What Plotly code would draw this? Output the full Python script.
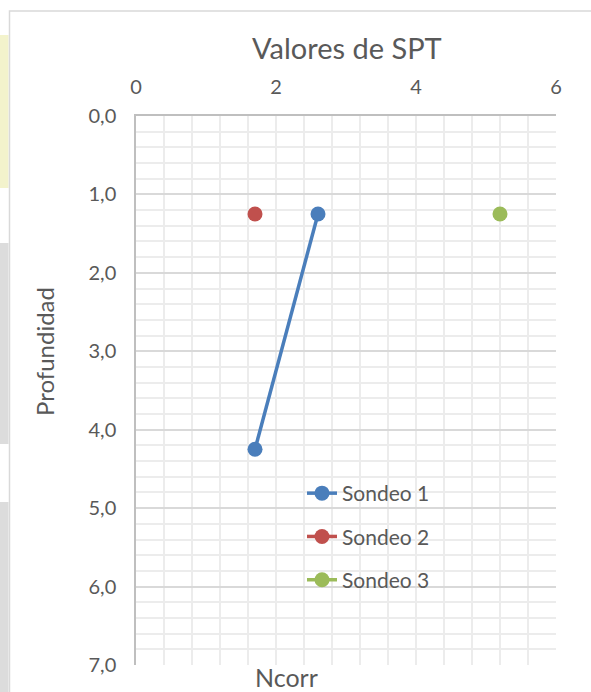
import plotly.graph_objects as go

# SPT blow counts (Ncorr) against depth for each borehole
sondeo_1_ncorr = [2.6, 1.7]
sondeo_1_prof = [1.25, 4.25]
sondeo_2_ncorr = [1.7]
sondeo_2_prof = [1.25]
sondeo_3_ncorr = [5.2]
sondeo_3_prof = [1.25]

series_names = ["Sondeo 1", "Sondeo 2", "Sondeo 3"]
series_colors = ["#4a7ebb", "#c0504d", "#9bbb59"]

W, H = 591, 692
L, R, T, B = 136, 556, 116, 665  # plot area in pixels
FONT = "Lato"
TXT = "#595959"


def px_x(px):
    return (px - L) / (R - L)


def px_y(py):
    return (B - py) / (B - T)


fig = go.Figure()
for name, xs, ys, col in zip(
    series_names,
    [sondeo_1_ncorr, sondeo_2_ncorr, sondeo_3_ncorr],
    [sondeo_1_prof, sondeo_2_prof, sondeo_3_prof],
    series_colors,
):
    fig.add_trace(go.Scatter(
        x=xs, y=ys, name=name, legendgroup=name,
        mode="lines+markers",
        line=dict(color=col, width=3.5),
        marker=dict(color=col, size=15),
    ))

shapes = [
    # sheet strips to the left of the chart
    dict(type="rect", xref="paper", yref="paper",
         x0=px_x(0), x1=px_x(8.5), y0=px_y(35), y1=px_y(188),
         fillcolor="#f3f3cc", line=dict(width=0), layer="below"),
    dict(type="rect", xref="paper", yref="paper",
         x0=px_x(0), x1=px_x(8.5), y0=px_y(243), y1=px_y(444),
         fillcolor="#dcdcdc", line=dict(width=0), layer="below"),
    dict(type="rect", xref="paper", yref="paper",
         x0=px_x(0), x1=px_x(8.5), y0=px_y(502), y1=px_y(700),
         fillcolor="#dcdcdc", line=dict(width=0), layer="below"),
    # chart frame
    dict(type="rect", xref="paper", yref="paper",
         x0=px_x(9.5), x1=px_x(620), y0=px_y(11), y1=px_y(720),
         fillcolor="rgba(0,0,0,0)", line=dict(color="#d9d9d9", width=1.5),
         layer="below"),
]

annotations = [
    dict(text="Valores de SPT", xref="paper", yref="paper",
         x=px_x(347), y=px_y(47), xanchor="center", yanchor="middle",
         showarrow=False, font=dict(family=FONT, size=29, color=TXT)),
    dict(text="Profundidad", xref="paper", yref="paper",
         x=px_x(44), y=px_y(352), xanchor="center", yanchor="middle",
         textangle=-90, showarrow=False,
         font=dict(family=FONT, size=24, color=TXT)),
    dict(text="Ncorr", xref="paper", yref="paper",
         x=px_x(286), y=px_y(677), xanchor="center", yanchor="middle",
         showarrow=False, font=dict(family=FONT, size=25, color=TXT)),
]

fig.update_layout(
    width=W, height=H,
    margin=dict(l=L, r=W - R, t=T, b=H - B, autoexpand=False),
    paper_bgcolor="white", plot_bgcolor="white",
    separators=",.",
    font=dict(family=FONT, size=20, color=TXT),
    shapes=shapes,
    annotations=annotations,
    showlegend=True,
    legend=dict(
        x=px_x(302), y=px_y(473), xanchor="left", yanchor="top",
        bgcolor="rgba(0,0,0,0)", traceorder="grouped",
        tracegroupgap=13, font=dict(family=FONT, size=21, color=TXT),
    ),
    xaxis=dict(
        side="top", range=[0, 6], dtick=2, tick0=0,
        showline=True, linecolor="#bfbfbf", linewidth=1.5,
        showgrid=True, gridcolor="#ececec", gridwidth=1.6,
        minor=dict(dtick=0.4, tick0=0, showgrid=True,
                   gridcolor="#ececec", gridwidth=1.6),
        zeroline=False, ticks="", ticklabelstandoff=12,
        tickfont=dict(family=FONT, size=20, color=TXT),
    ),
    yaxis=dict(
        range=[7, 0], dtick=1, tick0=0, tickformat=".1f",
        showline=True, linecolor="#bfbfbf", linewidth=1.5,
        showgrid=True, gridcolor="#d9d9d9", gridwidth=1.6,
        minor=dict(dtick=0.2, tick0=0, showgrid=True,
                   gridcolor="#ececec", gridwidth=1.6),
        zeroline=False, ticks="", ticklabelstandoff=14,
        tickfont=dict(family=FONT, size=20, color=TXT),
    ),
)

fig.write_html("out.html")
